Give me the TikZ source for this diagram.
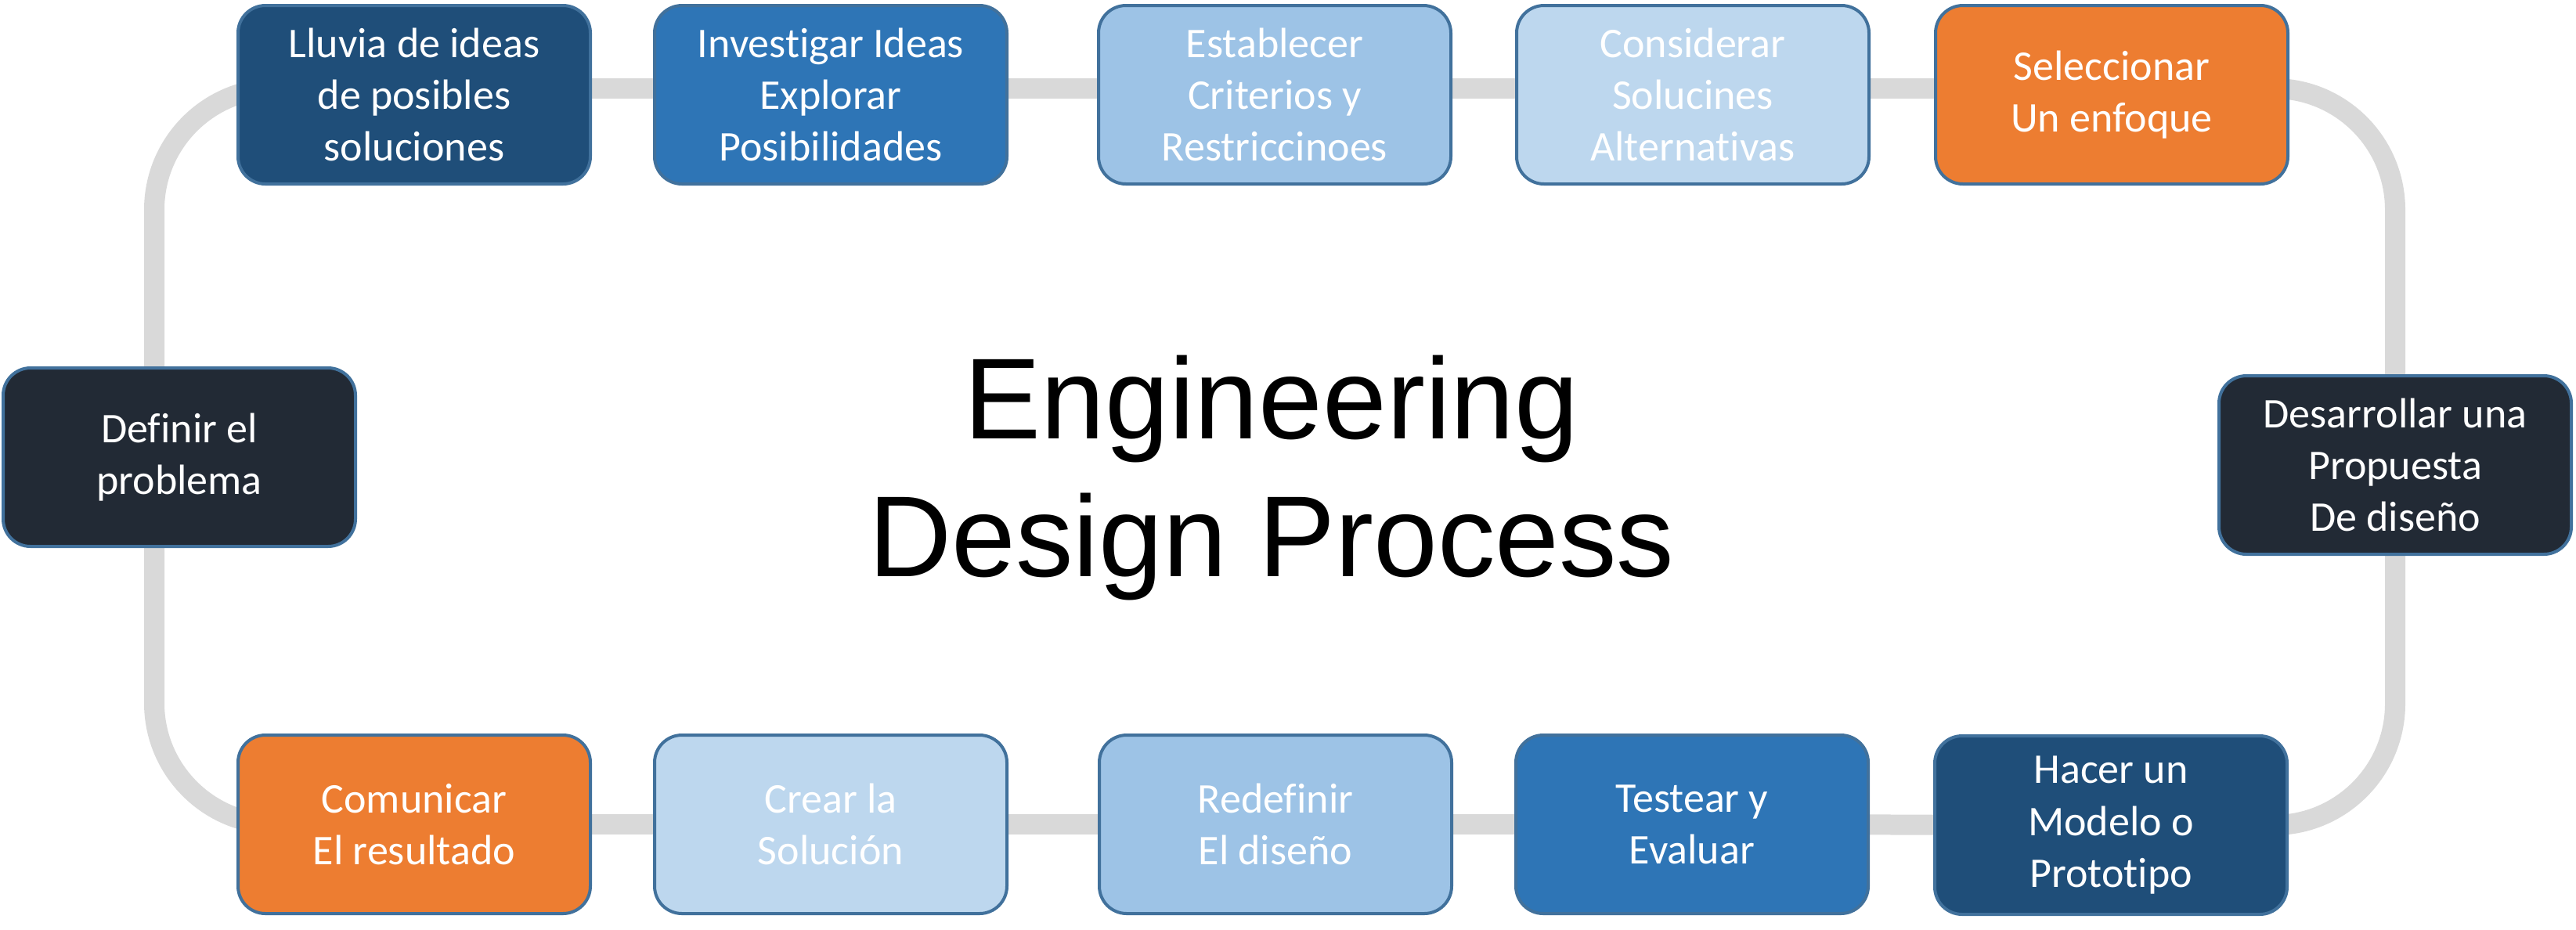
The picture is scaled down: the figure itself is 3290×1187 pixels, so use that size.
\documentclass[tikz,border=0pt]{standalone}
\usepackage{fontspec}
\setmainfont{Carlito}[RawFeature={-liga,-clig,-dlig}]
\newfontfamily\titlefont{Liberation Sans}
\pgfdeclarelayer{bg}
\pgfsetlayers{bg,main}
\definecolor{cNavy}{HTML}{1F4E79}
\definecolor{cMid}{HTML}{2E75B6}
\definecolor{cLight}{HTML}{9DC3E6}
\definecolor{cPale}{HTML}{BDD7EE}
\definecolor{cOrange}{HTML}{ED7D31}
\definecolor{cDark}{HTML}{222A35}
\definecolor{cBorder}{HTML}{41719C}
\definecolor{cLine}{HTML}{D9D9D9}
\begin{document}
\begin{tikzpicture}[x=0.1mm,y=-0.1mm,
  stepbox/.style={draw=cBorder, line width=0.4mm, rounded corners=3.5mm,
    minimum width=45mm, minimum height=22.8mm, inner sep=0pt, align=center,
    text=white, font=\fontsize{15.37pt}{18.78pt}\selectfont},
  conn/.style={draw=cLine, line width=2.6mm},
  corner/.style={conn, rounded corners=15.5mm}]
\useasboundingbox (0,0) rectangle (3290,1187);
% top row
\node[stepbox, fill=cNavy]   (lluvia)      at (529,121)  {Lluvia de ideas\\de posibles\\soluciones};
\node[stepbox, fill=cMid]    (investigar)  at (1061,121) {Investigar Ideas\\Explorar\\Posibilidades};
\node[stepbox, fill=cLight]  (establecer)  at (1628,121) {Establecer\\Criterios y\\Restriccinoes};
\node[stepbox, fill=cPale]   (considerar)  at (2162,121) {Considerar\\Solucines\\Alternativas};
\node[stepbox, fill=cOrange] (seleccionar) at (2697,121) {Seleccionar\\Un enfoque};
% sides
\node[stepbox, fill=cDark]   (desarrollar) at (3059,594) {Desarrollar una\\Propuesta\\De diseño};
\node[stepbox, fill=cDark]   (definir)     at (229,584)  {Definir el\\problema};
% bottom row
\node[stepbox, fill=cNavy]   (hacer)       at (2696,1054) {Hacer un\\Modelo o\\Prototipo};
\node[stepbox, fill=cMid]    (testear)     at (2161,1053) {Testear y\\Evaluar};
\node[stepbox, fill=cLight]  (redefinir)   at (1629,1053) {Redefinir\\El diseño};
\node[stepbox, fill=cPale]   (crear)       at (1061,1053) {Crear la\\Solución};
\node[stepbox, fill=cOrange] (comunicar)   at (529,1053)  {Comunicar\\El resultado};
% title
\node[font=\titlefont\fontsize{41.83pt}{50.08pt}\selectfont, align=center, inner sep=0pt]
  (title) at (1624,610) {Engineering\\Design Process};
% connectors
\begin{pgfonlayer}{bg}
\foreach \a/\b in {lluvia/investigar, investigar/establecer, establecer/considerar, considerar/seleccionar}
  \draw[conn] ([yshift=0.8mm]\a.center) -- ([yshift=0.8mm]\b.center);
\foreach \a/\b in {comunicar/crear, crear/redefinir, redefinir/testear, testear/hacer}
  \draw[conn] (\a.center) -- (\b.center);
\draw[corner] ([yshift=0.8mm]lluvia.center) -| ([xshift=-3.2mm]definir.center);
\draw[corner] ([xshift=-3.2mm]definir.center) |- (comunicar.center);
\draw[corner] ([yshift=0.8mm]seleccionar.center) -| (desarrollar.center);
\draw[corner] (desarrollar.center) |- (hacer.center);
\end{pgfonlayer}
\end{tikzpicture}
\end{document}
